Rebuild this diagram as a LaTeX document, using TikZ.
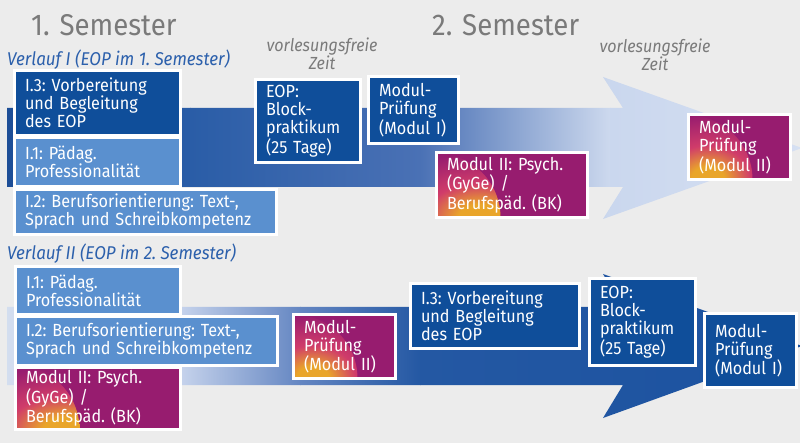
\documentclass[tikz,border=0pt]{standalone}
\usepackage{fontspec}
\setmainfont{Fira Sans}[FakeStretch=0.92]
\definecolor{bg}{HTML}{ECECEC}
\definecolor{dblue}{HTML}{0F4E9A}
\definecolor{mblue}{HTML}{5A90CF}
\definecolor{mmag}{HTML}{971C6F}
\definecolor{mpink}{HTML}{D03C6A}
\definecolor{morange}{HTML}{E9A52A}
\definecolor{titlegray}{HTML}{7A7A7A}
\definecolor{vblue}{HTML}{2C60AC}
\definecolor{ta}{HTML}{1C4D96}
\definecolor{tb}{HTML}{2A5DA7}
\definecolor{tc}{HTML}{4A71B5}
\definecolor{td}{HTML}{CDD9EE}
\definecolor{te}{HTML}{CAD7EE}
\definecolor{tf}{HTML}{D6E0F2}
\definecolor{ba}{HTML}{D4DEEF}
\definecolor{bb}{HTML}{C6D3EC}
\definecolor{bc}{HTML}{6486C2}
\definecolor{bd}{HTML}{2458A3}
\definecolor{be}{HTML}{1B52A0}
\pgfdeclareradialshading{orgmag}{\pgfpoint{0bp}{0bp}}{color(0bp)=(morange); color(5bp)=(morange); color(13bp)=(mpink); color(25bp)=(mmag); color(50bp)=(mmag)}
\tikzset{
  box/.style={draw=white, line width=3pt, inner sep=0pt, align=left, text=white,
    font=\fontsize{17.6}{18}\selectfont\frenchspacing},
  dk/.style={box, fill=dblue},
  md/.style={box, fill=mblue},
  mg/.style={box, fill=mmag, path picture={\shade[shading=orgmag]
      (path picture bounding box.south west) circle (64pt);}},
  sem/.style={anchor=base west, inner sep=0pt, text=titlegray, font=\fontsize{30}{31}\selectfont},
  vfz/.style={anchor=base, inner sep=0pt, text=titlegray, font=\fontsize{17.5}{18}\selectfont\itshape},
  vl/.style={anchor=base west, inner sep=0pt, text=vblue, font=\fontsize{18.5}{19}\selectfont\itshape\frenchspacing},
}
\newcommand\mybox[7]{%
  \pgfmathsetmacro\mytw{#5-#3-18}%
  \node[#1, minimum width={#5-#3+3}, minimum height={#6-#4+3}, text width=\mytw pt]
    (#2) at ({(#3+#5)/2},{(#4+#6)/2}) {#7};}
\begin{document}
\begin{tikzpicture}[x=1pt,y=-1pt]
\useasboundingbox (0,0) rectangle (800,443);
\fill[bg] (0,0) rectangle (800,443);
% top arrow
\begin{scope}
  \clip (7,108) -- (623,108) -- (603,77) -- (802,148) -- (603,219) -- (623,187) -- (7,187) -- cycle;
  \shade[left color=ta, right color=tb] (0,70) rectangle (190.5,225);
  \shade[left color=tb, right color=tc] (190,70) rectangle (420.5,225);
  \shade[left color=tc, right color=td] (420,70) rectangle (610.5,225);
  \shade[left color=te, right color=tf] (610,70) rectangle (805,225);
\end{scope}
% bottom arrow
\begin{scope}
  \clip (7,307) -- (623,307) -- (603,274) -- (802,346) -- (603,418) -- (623,385) -- (7,385) -- cycle;
  \shade[left color=ba, right color=bb] (0,270) rectangle (180.5,425);
  \shade[left color=bb, right color=bc] (180,270) rectangle (300.5,425);
  \shade[left color=bc, right color=bd] (300,270) rectangle (420.5,425);
  \shade[left color=bd, right color=be] (420,270) rectangle (805,425);
\end{scope}
% titles
\node[sem] (s1) at (31,36) {1. Semester};
\node[sem] (s2) at (432,36) {2. Semester};
\node[vfz] (v1) at (322,52) {vorlesungsfreie};
\node[vfz] (z1) at (322,70) {Zeit};
\node[vfz] (v2) at (655,53) {vorlesungsfreie};
\node[vfz] (z2) at (655,71) {Zeit};
\node[vl] (l1) at (7,66) {Verlauf I (EOP im 1. Semester)};
\node[vl] (l2) at (7,260) {Verlauf II (EOP im 2. Semester)};
% top boxes
\mybox{dk}{t13}{16}{72}{179}{134}{I.3: Vorbereitung\\und Begleitung\\des EOP}
\mybox{md}{t11}{16}{139}{179}{185}{I.1: Pädag.\\Professionalität}
\mybox{md}{t12}{16}{191}{275}{233}{I.2: Berufsorientierung: Text-,\\Sprach und Schreibkompetenz}
\mybox{dk}{teop}{257}{81}{359}{161}{EOP:\\Block-\\praktikum\\(25 Tage)}
\mybox{dk}{tmp1}{370}{78}{457}{142}{Modul-\\Prüfung\\(Modul I)}
\mybox{mg}{tm2}{438}{154}{586}{216}{Modul II: Psych.\\(GyGe) /\\Berufspäd. (BK)}
\mybox{mg}{tmp2}{690}{116}{789}{178}{Modul-\\Prüfung\\(Modul II)}
% bottom boxes
\mybox{md}{b11}{17}{268}{179}{313}{I.1: Pädag.\\Professionalität}
\mybox{md}{b12}{17}{318}{276}{364}{I.2: Berufsorientierung: Text-,\\Sprach und Schreibkompetenz}
\mybox{mg}{b2}{17}{369}{179}{428}{Modul II: Psych.\\(GyGe) /\\Berufspäd. (BK)}
\mybox{mg}{bmp2}{295}{316}{394}{377}{Modul-\\Prüfung\\(Modul II)}
\mybox{dk}{b13}{412}{285}{578}{347}{I.3: Vorbereitung\\und Begleitung\\des EOP}
\mybox{dk}{beop}{591}{280}{694}{364}{EOP:\\Block-\\praktikum\\(25 Tage)}
\mybox{dk}{bmp1}{706}{315}{795}{386}{Modul-\\Prüfung\\(Modul I)}
\end{tikzpicture}
\end{document}
